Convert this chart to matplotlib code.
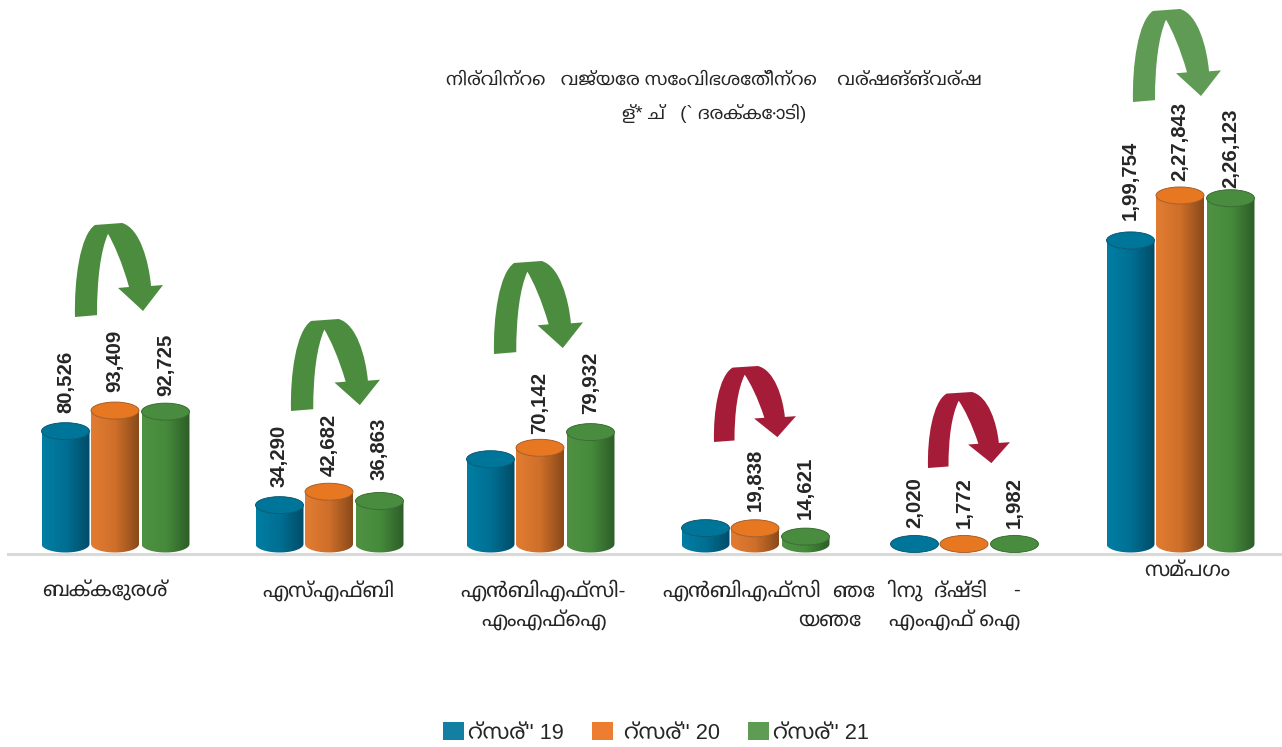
import numpy as np
import matplotlib
matplotlib.use("Agg")
import matplotlib.pyplot as plt
from matplotlib.colors import LinearSegmentedColormap
from matplotlib.patches import Ellipse, Patch, PathPatch, Polygon
from matplotlib.path import Path

plt.rcParams['font.family'] = ['Liberation Sans', 'Noto Sans Malayalam', 'DejaVu Sans']

# data (two hidden bars estimated from the totals)
fy19 = [80526, 34290, 63000, 19918, 2020, 199754]
fy20 = [93409, 42682, 70142, 19838, 1772, 227843]
fy21 = [92725, 36863, 79932, 14621, 1982, 226123]
fy19_labels = ["80,526", "34,290", "", "", "2,020", "1,99,754"]
fy20_labels = ["93,409", "42,682", "70,142", "19,838", "1,772", "2,27,843"]
fy21_labels = ["92,725", "36,863", "79,932", "14,621", "1,982", "2,26,123"]
series_names = ["റ്സര്'' 19", " റ്സര്'' 20", "റ്സര്'' 21"]
title_lines = ["നിര്വിന്റെ   വജ്യേര സേംവിഭശേത്ിന്റെ    വര്ഷങ്ങ്വര്ഷ",
               "ള്* ച്   (` ദരക്കോടി)"]
category_lines = [("ബക്കേുരശ്", 105, 590),
                  ("എസ്എഫ്ബി", 328, 590),
                  ("എൻബിഎഫ്സി-", 543, 590),
                  ("എംഎഫ്ഐ", 544, 620),
                  ("എൻബിഎഫ്സി", 742, 590),
                  ("യഞേ", 830, 620),
                  ("ഞേ   ിനു  ദ്ഷ്ടി", 910, 590),
                  ("-", 1017, 590),
                  ("എംഎഫ് ഐ", 955, 620),
                  ("സമ്പഗം", 1187, 570)]

W, H = 1282, 747
PX_PER_UNIT = 0.0016
ZERO_PX = 560
FLOOR = 10000  # short bars still show their whole base
BAR_W = 48
CAP_H = 17 / PX_PER_UNIT

group_x = [115, 329, 540, 755, 964, 1180]
offsets = [-49.5, 0, 50.5]
fills = [["#007ea3", "#006f93", "#004c68"],
         ["#e27c32", "#cf6f2a", "#8a4a1a"],
         ["#4f9244", "#468a3c", "#2d5e28"]]
caps = ["#00759a", "#e87722", "#4a8c3f"]
rims = ["#00506b", "#9a5520", "#2f6329"]

# label gap above each cap where the reference differs from the default
label_nudge = {(0, 0): 10, (0, 1): 10, (1, 0): 10, (1, 2): 13, (2, 1): 5, (2, 2): 10,
               (3, 1): 9, (3, 2): 9, (5, 0): 12, (5, 1): 6, (5, 2): 2}

arrows = [(75, 163, 223, 317, "#4c8c3f"),
          (291, 380, 319, 411, "#4c8c3f"),
          (494, 583, 261, 354, "#4c8c3f"),
          (714, 796, 366, 442, "#a51c38"),
          (928, 1010, 392, 468, "#a51c38"),
          (1133, 1221, 9, 102, "#5f9b54")]

fig = plt.figure(figsize=(W / 100, H / 100), dpi=100)
ax = fig.add_axes([0, 0, 1, 1])
ax.set_xlim(0, W)
ax.set_ylim((ZERO_PX - H) / PX_PER_UNIT, ZERO_PX / PX_PER_UNIT)
ax.set_autoscale_on(False)
ax.axis("off")

# overlay in reference pixels for the arrows and text
ax_px = fig.add_axes([0, 0, 1, 1])
ax_px.set_xlim(0, W)
ax_px.set_ylim(H, 0)
ax_px.patch.set_alpha(0)
ax_px.axis("off")

ax_px.plot([8, 1282], [553.5, 553.5], color="#d9d9d9", lw=2.2, zorder=0)


def draw_cylinder(x, value, s):
    top = max(value, FLOOR)
    base = FLOOR
    t = np.linspace(np.pi, 2 * np.pi, 40)
    bx = x + BAR_W / 2 * np.cos(t)
    by = base + CAP_H / 2 * np.sin(t)
    tx = bx[::-1]
    ty = top + CAP_H / 2 * np.sin(t)[::-1]
    body = Polygon(np.column_stack([np.r_[bx, tx], np.r_[by, ty]]), closed=True,
                   facecolor="none", edgecolor="none", transform=ax.transData)
    ax.add_patch(body)
    cmap = LinearSegmentedColormap.from_list("side", fills[s])
    img = ax.imshow(np.linspace(0, 1, 64)[None, :], cmap=cmap, aspect="auto",
                    extent=[x - BAR_W / 2, x + BAR_W / 2, base - CAP_H, top + CAP_H],
                    zorder=2)
    img.set_clip_path(body)
    ax.add_patch(Ellipse((x, top), BAR_W, CAP_H, facecolor=caps[s],
                         edgecolor=rims[s], lw=0.6, zorder=3))


def draw_arrow(x0, x1, y0, y1, color):
    shape = [((0, 1), Path.MOVETO), ((.25, .98), Path.LINETO),
             ((.25, .60), Path.CURVE4), ((.29, .30), Path.CURVE4), ((.375, .115), Path.CURVE4),
             ((.443, .225), Path.CURVE4), ((.534, .415), Path.CURVE4), ((.614, .681), Path.CURVE4),
             ((.489, .691), Path.LINETO), ((.773, .936), Path.LINETO), ((1, .66), Path.LINETO),
             ((.864, .67), Path.LINETO),
             ((.84, .415), Path.CURVE4), ((.739, .053), Path.CURVE4), ((.534, 0), Path.CURVE4),
             ((.227, .021), Path.LINETO),
             ((.057, .128), Path.CURVE4), ((-.011, .606), Path.CURVE4), ((0, 1), Path.CURVE4)]
    verts = [(x0 + u * (x1 - x0), y0 + v * (y1 - y0)) for (u, v), _ in shape]
    ax_px.add_patch(PathPatch(Path(verts, [c for _, c in shape]), facecolor=color,
                              edgecolor="none", zorder=4))


for s, (values, labels) in enumerate([(fy19, fy19_labels), (fy20, fy20_labels), (fy21, fy21_labels)]):
    for g, (value, label) in enumerate(zip(values, labels)):
        x = group_x[g] + offsets[s]
        draw_cylinder(x, value, s)
        if label:
            gap = label_nudge.get((g, s), 7)
            ax.annotate(label, (x, max(value, FLOOR)), xytext=(0, 8.5 + gap),
                        textcoords="offset pixels", rotation=90, ha="center", va="bottom",
                        fontsize=14.7, fontweight="bold", color="#262626", zorder=5)

for arrow in arrows:
    draw_arrow(*arrow)

for line, y in zip(title_lines, [80, 113]):
    ax_px.text(714, y, line, ha="center", va="center", fontsize=13.3, color="#262626")

for text, x, y in category_lines:
    ax_px.text(x, y, text, ha="center", va="center", fontsize=14.8, color="#262626")

handles = [Patch(facecolor=c) for c in ["#137fa3", "#ed7d31", "#5e9b53"]]
fig.legend(handles, series_names, loc="center", bbox_to_anchor=(656 / W, 1 - 733 / H), ncol=3,
           frameon=False, fontsize=15.7, handlelength=0.96, handleheight=0.83,
           handletextpad=0.2, columnspacing=1.3, labelcolor="#262626")

fig.savefig("out.png", dpi=100)
